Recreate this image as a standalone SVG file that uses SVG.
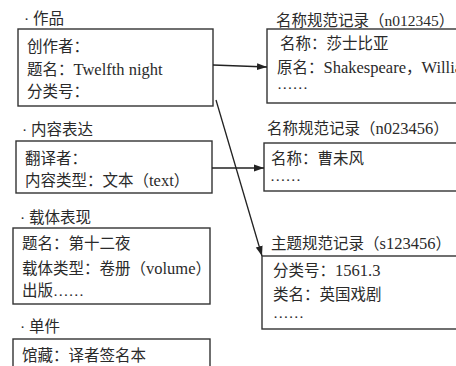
<svg xmlns="http://www.w3.org/2000/svg" width="456" height="366" viewBox="0 0 456 366">
<style>
text{font-family:"Liberation Serif","Noto Sans CJK SC",serif;font-size:15.5px;fill:#2a2a2a}
.l{font-size:16.5px}
.box{fill:none;stroke:#333;stroke-width:1.4}
.con{fill:none;stroke:#222;stroke-width:1.3}
</style>
<defs>
<marker id="arr" markerUnits="userSpaceOnUse" markerWidth="11" markerHeight="8" refX="10" refY="4" orient="auto">
<path d="M0,0.5 L10,4 L0,7.5 z" fill="#222"/>
</marker>
</defs>
<rect width="456" height="366" fill="#fff"/>
<g id="work">
<text x="24" y="24">· 作品</text>
<rect class="box" x="18" y="29" width="195" height="77"/>
<text x="27" y="52">创作者：</text>
<text x="27" y="75">题名：<tspan class="l">Twelfth night</tspan></text>
<text x="27" y="97">分类号：</text>
</g>
<g id="expression">
<text x="22" y="135">· 内容表达</text>
<rect class="box" x="16" y="141" width="196" height="52"/>
<text x="25" y="164">翻译者：</text>
<text x="25" y="186">内容类型：文本（<tspan class="l">text</tspan>）</text>
</g>
<g id="manifestation">
<text x="20" y="223">· 载体表现</text>
<rect class="box" x="13" y="228" width="197" height="76"/>
<text x="22" y="249">题名：第十二夜</text>
<text x="22" y="274">载体类型：卷册（<tspan class="l">volume</tspan>）</text>
<text x="22" y="296">出版……</text>
</g>
<g id="item">
<text x="20" y="332">· 单件</text>
<rect class="box" x="13" y="339" width="197" height="40"/>
<text x="22" y="361">馆藏：译者签名本</text>
</g>
<g id="nameA">
<text x="276" y="26">名称规范记录（n012345）</text>
<rect class="box" x="267" y="29" width="200" height="74"/>
<text x="280" y="49">名称：莎士比亚</text>
<text x="277" y="73">原名：<tspan class="l">Shakespeare</tspan>，<tspan class="l">William</tspan></text>
<text x="277" y="89">……</text>
</g>
<g id="nameB">
<text x="267" y="134">名称规范记录（<tspan class="l">n023456</tspan>）</text>
<rect class="box" x="264" y="143" width="203" height="48"/>
<text x="271" y="164">名称：曹未风</text>
<text x="270" y="181">……</text>
</g>
<g id="subjectC">
<text x="271" y="249">主题规范记录（<tspan class="l">s123456</tspan>）</text>
<rect class="box" x="262" y="256" width="205" height="73"/>
<text x="273" y="276">分类号：<tspan class="l">1561.3</tspan></text>
<text x="273" y="300">类名：英国戏剧</text>
<text x="273" y="318">……</text>
</g>
<g id="connectors">
<line class="con" x1="213" y1="65" x2="267" y2="67" marker-end="url(#arr)"/>
<line class="con" x1="216" y1="100" x2="262" y2="256" marker-end="url(#arr)"/>
<line class="con" x1="212" y1="168" x2="264" y2="168" marker-end="url(#arr)"/>
</g>
</svg>
